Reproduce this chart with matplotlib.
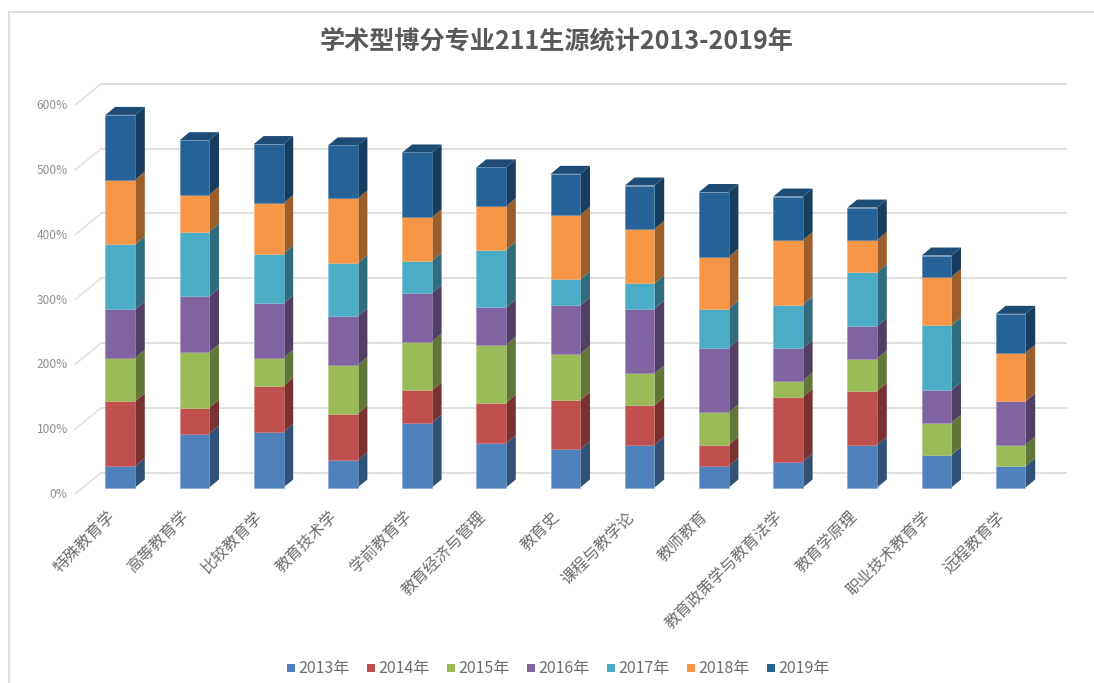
import matplotlib
matplotlib.use("Agg")
import matplotlib.pyplot as plt
from matplotlib.colors import to_rgb
from matplotlib.patches import Patch
from matplotlib.transforms import ScaledTranslation

plt.rcParams['font.family'] = ['Noto Sans CJK SC', 'DejaVu Sans']

majors = ["特殊教育学", "高等教育学", "比较教育学", "教育技术学", "学前教育学", "教育经济与管理", "教育史",
          "课程与教学论", "教师教育", "教育政策学与教育法学", "教育学原理", "职业技术教育学", "远程教育学"]
years = ["2013年", "2014年", "2015年", "2016年", "2017年", "2018年", "2019年"]
v2013 = [33, 83, 86, 42, 100, 68, 59, 66, 33, 40, 66, 50, 33]
v2014 = [100, 40, 71, 72, 50, 63, 76, 61, 33, 100, 83, 0, 0]
v2015 = [67, 86, 43, 75, 75, 89, 71, 49, 50, 25, 50, 50, 33]
v2016 = [75, 86, 84, 75, 75, 58, 75, 100, 100, 50, 50, 50, 67]
v2017 = [100, 100, 77, 82, 50, 89, 40, 39, 60, 67, 83, 100, 0]
v2018 = [100, 57, 78, 100, 67, 67, 100, 84, 80, 100, 50, 75, 75]
v2019 = [100, 84, 91, 82, 100, 60, 63, 67, 100, 67, 50, 33, 60]
series = [v2013, v2014, v2015, v2016, v2017, v2018, v2019]
colors = ["#4F81BD", "#C0504D", "#9BBB59", "#8064A2", "#4BACC6", "#F79646", "#256297"]
yticks = [0, 100, 200, 300, 400, 500, 600]

W, H = 1094, 683
fig = plt.figure(figsize=(W / 100, H / 100), dpi=100)

# axes box in pixels, chosen so one category = 74.2 px and 100% = 64.8 px
left, right, base = 83, 1058, 487.5
center0 = 120.3
top = base - 6.2 * 64.8
ax = fig.add_axes([left / W, 1 - base / H, (right - left) / W, (base - top) / H])
ax.set_xlim((left - center0) / 74.2, (right - center0) / 74.2)
ax.set_ylim(0, 620)
px_x = 1 / 74.2
px_y = 1 / 0.648
width = 29.6 * px_x
dx, dy = 9.7 * px_x, 8 * px_y


def shade(c, f):
    return tuple(x * f for x in to_rgb(c))


def tint(c, f):
    return tuple(x + (1 - x) * f for x in to_rgb(c))


# back wall grid + slanted part on the left
x_wall = (101 - center0) / 74.2
x_end = (1066 - center0) / 74.2
x_front = (75 - center0) / 74.2
for t in yticks:
    ax.plot([x_wall, x_end], [t + 14.8 * px_y] * 2, color="#e0e0e0", lw=1.4, clip_on=False, zorder=1)
    ax.plot([x_front, x_wall], [t - 6.5 * px_y, t + 14.8 * px_y], color="#e0e0e0", lw=1.1, clip_on=False, zorder=1)

for i in range(len(majors)):
    bottom = 0
    for vals, c in zip(series, colors):
        v = vals[i]
        if v == 0:
            continue
        x1 = i + width / 2
        ax.fill([x1, x1 + dx, x1 + dx, x1], [bottom, bottom + dy, bottom + v + dy, bottom + v],
                color=shade(c, 0.63), lw=0, clip_on=False, zorder=3)
        ax.bar(i, v, width, bottom=bottom, color=c, edgecolor=tint(c, 0.25), linewidth=0.4, clip_on=False, zorder=4)
        bottom += v
    x0 = i - width / 2
    x1 = i + width / 2
    ax.fill([x0, x1, x1 + dx, x0 + dx], [bottom, bottom, bottom + dy, bottom + dy],
            color=shade(colors[-1], 0.78), lw=0, clip_on=False, zorder=3)

for s in ax.spines.values():
    s.set_visible(False)
ax.patch.set_visible(False)

ax.set_yticks(yticks)
ax.set_yticklabels([f"{t}%" for t in yticks], fontsize=8.6, color="#909090")
ax.tick_params(axis="y", length=0, pad=11)
shift = ScaledTranslation(0, -5.5 / 100, fig.dpi_scale_trans)
for lab in ax.get_yticklabels():
    lab.set_transform(lab.get_transform() + shift)

ax.set_xticks(range(len(majors)))
ax.set_xticklabels(majors, fontsize=11.4, color="#6e6e6e", rotation=45, ha="right", rotation_mode="anchor")
ax.tick_params(axis="x", length=0, pad=15)
xshift = ScaledTranslation(-14 / 100, 0, fig.dpi_scale_trans)
for lab in ax.get_xticklabels():
    lab.set_transform(lab.get_transform() + xshift)

fig.text(556.5 / W, 1 - 41 / H, "学术型博分专业211生源统计2013-2019年", fontsize=18.1, fontweight="bold",
         color="#595959", ha="center", va="center")

handles = [Patch(facecolor=c, edgecolor="none", label=y) for c, y in zip(colors, years)]
fig.legend(handles=handles, ncol=7, loc="center", bbox_to_anchor=(558.5 / W, 1 - 669 / H), frameon=False,
           fontsize=11.5, labelcolor="#6e6e6e", handlelength=0.5, handleheight=0.39, handletextpad=0.2,
           columnspacing=1.1, borderpad=0)

# thin chart frame
fig.add_artist(plt.Line2D([9 / W, 1], [1 - 11.8 / H] * 2, color="#d9d9d9", lw=1.1))
fig.add_artist(plt.Line2D([9 / W, 9 / W], [0, 1 - 11.8 / H], color="#d9d9d9", lw=1.1))

fig.savefig("out.png", dpi=100)
